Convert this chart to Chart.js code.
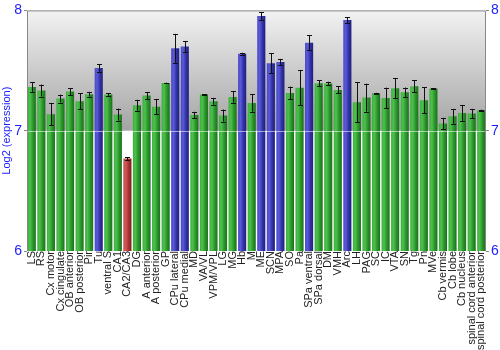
<!DOCTYPE html>
<html><head><meta charset="utf-8">
<script src="https://cdn.jsdelivr.net/npm/chart.js@4/dist/chart.umd.min.js"></script>
<style>html,body{margin:0;padding:0;background:#fff}#wrap{width:500px;height:350px}</style>
</head>
<body><div id="wrap"><canvas id="c" width="500" height="350"></canvas></div>
<script>
const categories = ["LS","RS","Cx motor","Cx cingulate","OB anterior","OB posterior","Pir","Tu","ventral S","CA1","CA2/CA3","DG","A anterior","A posterior","GP","CPu lateral","CPu medial","MD","VA/VL","VPM/VPL","LG","MG","Hb","M","ME","SCN","MPA","SO","Pa","SPa ventral","SPa dorsal","DM","VMH","Arc","LH","PAG","SC","IC","VTA","SN","Tg","Pn","MVe","Cb vermis","Cb lobe","Cb nucleus","spinal cord anterior","spinal cord posterior"];
const values = [7.364,7.334,7.137,7.267,7.325,7.245,7.303,7.521,7.300,7.134,6.769,7.212,7.292,7.200,7.397,7.685,7.699,7.131,7.300,7.245,7.126,7.280,7.640,7.231,7.953,7.560,7.571,7.314,7.358,7.732,7.394,7.392,7.339,7.920,7.237,7.275,7.311,7.272,7.353,7.320,7.369,7.253,7.350,7.060,7.120,7.148,7.142,7.170];
const errors = [0.04,0.05,0.09,0.033,0.028,0.065,0.02,0.03,0.01,0.05,0.012,0.045,0.03,0.064,0.003,0.12,0.047,0.026,0.003,0.028,0.05,0.047,0.008,0.072,0.032,0.084,0.026,0.053,0.144,0.062,0.025,0.015,0.029,0.022,0.165,0.116,0.004,0.086,0.082,0.039,0.05,0.107,0.003,0.048,0.061,0.066,0.039,0.005];
const groups = ["g","g","g","g","g","g","g","b","g","g","r","g","g","g","g","b","b","g","g","g","g","g","b","g","b","b","b","g","g","b","g","g","g","b","g","g","g","g","g","g","g","g","g","g","g","g","g","g"];
const yTicks = [6,7,8];

const palette = {
  g: ["#3faf3f","#4cc04c","#2a962a","#1b6f1b"],
  b: ["#4848c8","#5a5ad8","#3232a8","#20207a"],
  r: ["#c04848","#d05a5a","#a83232","#7a2020"]
};
const BAR_PCT = 0.85;
const BLUE = "#2020ff";
const FONT = "'Liberation Sans', Arial, sans-serif";

function barFill(ctx){
  const chart = ctx.chart;
  const g = groups[ctx.dataIndex] || "g";
  const p = palette[g];
  const xs = chart.scales && chart.scales.x;
  if (!xs || !chart.chartArea) return p[0];
  const x = xs.getPixelForValue(ctx.dataIndex);
  const w = xs.width / categories.length * BAR_PCT;
  const grad = chart.ctx.createLinearGradient(x - w/2, 0, x + w/2, 0);
  grad.addColorStop(0, p[0]);
  grad.addColorStop(0.3, p[1]);
  grad.addColorStop(0.65, p[2]);
  grad.addColorStop(1, p[3]);
  return grad;
}

const bgPlugin = {
  id: "bg",
  beforeDraw(chart){
    const {ctx, chartArea: a, scales} = chart;
    const y7 = scales.y.getPixelForValue(7);
    ctx.save();
    ctx.fillStyle = "#ffffff";
    ctx.fillRect(a.left, a.top, a.right - a.left, a.bottom - a.top);
    const grad = ctx.createLinearGradient(0, a.top, 0, y7);
    grad.addColorStop(0, "#f2f2f2");
    grad.addColorStop(1, "#a4a4a4");
    ctx.fillStyle = grad;
    ctx.fillRect(a.left, a.top, a.right - a.left, y7 - a.top);
    ctx.restore();
  },
  afterDatasetsDraw(chart){
    const {ctx, chartArea: a, scales} = chart;
    const xs = scales.x, ys = scales.y;
    ctx.save();
    const y7 = Math.round(ys.getPixelForValue(7)) + 0.5;
    ctx.strokeStyle = "rgba(255,255,255,0.55)";
    ctx.lineWidth = 1;
    ctx.beginPath(); ctx.moveTo(a.left, y7); ctx.lineTo(a.right, y7); ctx.stroke();
    ctx.strokeStyle = "#111";
    ctx.lineWidth = 1;
    values.forEach((v, i) => {
      const x = Math.round(xs.getPixelForValue(i)) + 0.5;
      const yt = ys.getPixelForValue(v + errors[i]);
      const yb = ys.getPixelForValue(v - errors[i]);
      ctx.beginPath();
      ctx.moveTo(x, yt); ctx.lineTo(x, yb);
      ctx.moveTo(x - 2.5, Math.round(yt) + 0.5); ctx.lineTo(x + 2.5, Math.round(yt) + 0.5);
      ctx.moveTo(x - 2.5, Math.round(yb) + 0.5); ctx.lineTo(x + 2.5, Math.round(yb) + 0.5);
      ctx.stroke();
    });
    ctx.restore();
  },
  afterDraw(chart){
    const {ctx, chartArea: a} = chart;
    ctx.save();
    ctx.strokeStyle = "#888";
    ctx.lineWidth = 1;
    ctx.beginPath();
    ctx.moveTo(a.left + 0.5, a.bottom);
    ctx.lineTo(a.left + 0.5, a.top + 0.5);
    ctx.lineTo(a.right - 0.5, a.top + 0.5);
    ctx.lineTo(a.right - 0.5, a.bottom);
    ctx.stroke();
    ctx.restore();
  }
};

const yCommon = {
  min: 6, max: 8,
  afterBuildTicks(s){ s.ticks = yTicks.map(v => ({value: v})); },
  ticks: {color: BLUE, font: {size: 14, family: FONT}, padding: 2},
  grid: {drawOnChartArea: false, tickLength: 3, color: "#888"},
  border: {display: false}
};

new Chart(document.getElementById("c"), {
  type: "bar",
  data: {
    labels: categories,
    datasets: [{
      data: values,
      backgroundColor: barFill,
      borderWidth: 0,
      barPercentage: BAR_PCT,
      categoryPercentage: 1.0
    }]
  },
  options: {
    responsive: false,
    animation: false,
    layout: {padding: {top: 10, left: 0, right: 0, bottom: 0}},
    plugins: {legend: {display: false}, tooltip: {enabled: false}},
    scales: {
      x: {
        grid: {display: false, drawTicks: false, tickLength: 0},
        border: {display: false},
        ticks: {autoSkip: false, maxRotation: 90, minRotation: 90, color: "#222", padding: 0,
                font: {size: 11, family: FONT}},
        afterFit(s){ s.height = 99; }
      },
      y: Object.assign({}, yCommon, {
        position: "left",
        title: {display: true, text: "Log2 (expression)", color: BLUE, padding: 0,
                font: {size: 11, family: FONT}},
        afterFit(s){ s.width = 27; }
      }),
      y2: Object.assign({}, yCommon, {
        position: "right",
        afterFit(s){ s.width = 14; }
      })
    }
  },
  plugins: [bgPlugin]
});
</script>
</body></html>
